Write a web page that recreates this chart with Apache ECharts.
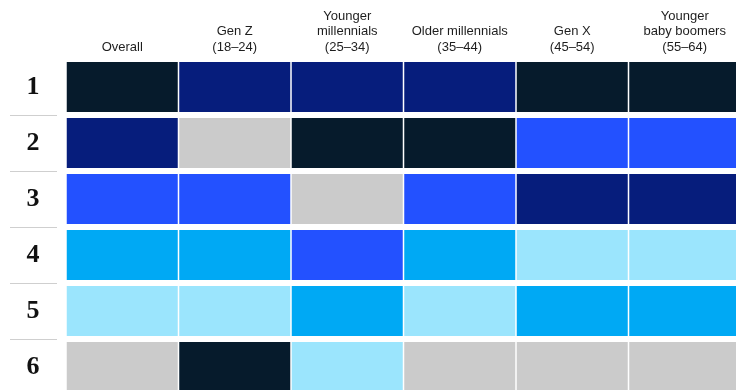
<!DOCTYPE html>
<html>
<head>
<meta charset="utf-8">
<style>
  html, body { margin: 0; padding: 0; background: #ffffff; overflow: hidden; }
  /* The table continues past the visible window on the right and bottom */
  #chart { width: 760px; height: 410px; }
</style>
<script src="https://cdn.jsdelivr.net/npm/echarts@6/dist/echarts.min.js"></script>
</head>
<body>
<div id="chart"></div>
<script>
// Column headers (age groups)
const groups = [
  'Overall',
  'Gen Z\n(18–24)',
  'Younger\nmillennials\n(25–34)',
  'Older millennials\n(35–44)',
  'Gen X\n(45–54)',
  'Younger\nbaby boomers\n(55–64)'
];

// Rank labels down the left side
const ranks = ['1', '2', '3', '4', '5', '6'];

// Item colours, one per ranked item
const itemColors = ['#061b2c', '#061d7c', '#2351ff', '#00a9f4', '#9be5fd', '#cbcbcb'];

// For each group: which item sits at rank 1..6
const overallRanking     = [0, 1, 2, 3, 4, 5];
const genZRanking        = [1, 5, 2, 3, 4, 0];
const youngerMillRanking = [1, 0, 5, 2, 3, 4];
const olderMillRanking   = [1, 0, 2, 3, 4, 5];
const genXRanking        = [0, 2, 1, 4, 3, 5];
const boomersRanking     = [0, 2, 1, 4, 3, 5];

const rankings = [overallRanking, genZRanking, youngerMillRanking,
                  olderMillRanking, genXRanking, boomersRanking];

// [groupIndex, rankIndex, itemIndex]
const cells = [];
rankings.forEach((list, g) => {
  list.forEach((item, r) => cells.push([g, r, item]));
});

const chart = echarts.init(document.getElementById('chart'), null, { renderer: 'canvas' });

chart.setOption({
  animation: false,
  backgroundColor: '#ffffff',
  grid: { left: 66, top: 59, width: 675, height: 336 },
  xAxis: {
    type: 'category',
    position: 'top',
    data: groups,
    axisLine: { show: false },
    axisTick: { show: false },
    splitLine: { show: false },
    axisLabel: {
      interval: 0,
      margin: 4,
      fontFamily: 'Liberation Sans, Arial, sans-serif',
      fontSize: 13,
      lineHeight: 15.5,
      color: '#1e1e1e',
      align: 'center'
    }
  },
  yAxis: {
    type: 'category',
    inverse: true,
    data: ranks,
    offset: 9,
    axisLine: { show: false },
    axisTick: {
      show: true,
      length: 47,
      interval: (index) => index > 0,
      lineStyle: { color: '#cfcfcf', width: 1 }
    },
    splitLine: { show: false },
    axisLabel: {
      margin: 24,
      align: 'center',
      fontFamily: 'Liberation Serif, Times New Roman, serif',
      fontWeight: 'bold',
      fontSize: 26,
      color: '#111111'
    }
  },
  series: [{
    type: 'custom',
    data: cells,
    encode: { x: 0, y: 1 },
    renderItem: function (params, api) {
      const center = api.coord([api.value(0), api.value(1)]);
      const size = api.size([1, 1]);
      const colGap = 1.5;
      const rowGap = 6;
      return {
        type: 'rect',
        shape: {
          x: center[0] - size[0] / 2 + colGap / 2,
          y: center[1] - size[1] / 2 + rowGap / 2,
          width: size[0] - colGap,
          height: size[1] - rowGap
        },
        style: { fill: itemColors[api.value(2)] }
      };
    }
  }]
});
</script>
</body>
</html>
